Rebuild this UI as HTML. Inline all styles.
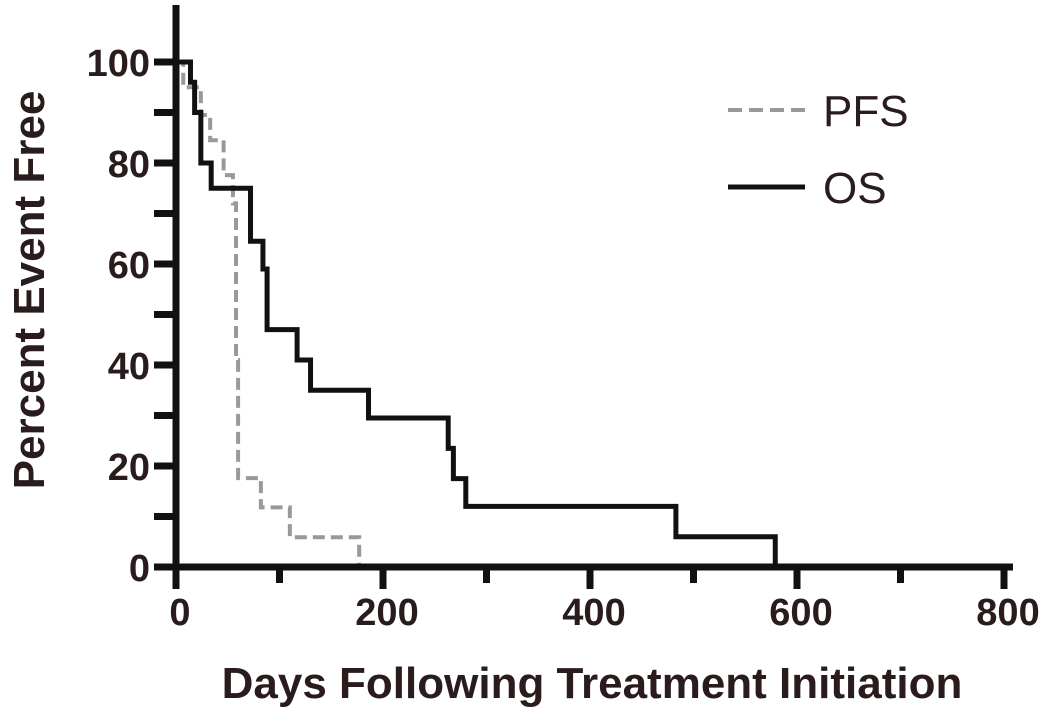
<!DOCTYPE html>
<html><head><meta charset="utf-8"><style>
body{margin:0;background:#fff;}
svg text{font-family:"Liberation Sans",Arial,sans-serif;font-weight:bold;fill:#2a1c1c;}
</style></head><body>
<svg id="chart" width="1050" height="717" viewBox="0 0 1050 717" xmlns="http://www.w3.org/2000/svg">
<g id="marks"></g>
<g id="axes"></g>
<text x="0" y="0" transform="translate(44,290) rotate(-90)" text-anchor="middle" font-size="44">Percent Event Free</text>
<text x="592" y="698" text-anchor="middle" font-size="44">Days Following Treatment Initiation</text>
<g>
<line x1="728" y1="110" x2="805" y2="110" stroke="#999" stroke-width="4" stroke-dasharray="14,7"/>
<text x="823" y="126" font-size="44" style="font-weight:normal">PFS</text>
<line x1="728" y1="187" x2="805" y2="187" stroke="#111" stroke-width="5"/>
<text x="823" y="203" font-size="44" style="font-weight:normal">OS</text>
</g>
</svg>
<script>
const xTicks=[0,200,400,600,800];
const yTicks=[0,20,40,60,80,100];
const osDays=[0,14,18,24,34,72,84,88,117,130,186,263,268,280,483,579];
const osVals=[100,96,90,80,75,64.5,59,47,41,35,29.5,23.5,17.5,12,6,0];
const pfsDays=[0,7,24,33,46,55,58,60,82,110,177];
const pfsVals=[100,95,89.5,84.5,77.6,72,41,17.6,11.8,5.9,0];
const X0=176,XS=1.035,Y0=567,YS=5.05;
const sx=d=>X0+d*XS, sy=v=>Y0-v*YS;
const NS='http://www.w3.org/2000/svg';
const marks=document.getElementById('marks'), axes=document.getElementById('axes');
function stepPath(days,vals){let d='M'+sx(days[0])+','+sy(vals[0]);for(let i=1;i<days.length;i++){d+=' H'+sx(days[i])+' V'+sy(vals[i]);}return d;}
const pfs=document.createElementNS(NS,'path');


pfs.setAttribute('d',stepPath(pfsDays,pfsVals));
pfs.setAttribute('fill','none');pfs.setAttribute('stroke','#999');pfs.setAttribute('stroke-width','4');pfs.setAttribute('stroke-dasharray','12,6');
marks.appendChild(pfs);
const os=document.createElementNS(NS,'path');


os.setAttribute('d',stepPath(osDays,osVals));
os.setAttribute('fill','none');os.setAttribute('stroke','#111');os.setAttribute('stroke-width','5');
marks.appendChild(os);
function line(x1,y1,x2,y2,w,name){const l=document.createElementNS(NS,'line');


l.setAttribute('x1',x1);l.setAttribute('y1',y1);l.setAttribute('x2',x2);l.setAttribute('y2',y2);l.setAttribute('stroke','#111');l.setAttribute('stroke-width',w);axes.appendChild(l);}
function text(x,y,s,anchor,name){const t=document.createElementNS(NS,'text');


t.setAttribute('x',x);t.setAttribute('y',y);t.setAttribute('text-anchor',anchor);t.setAttribute('font-size','38');t.textContent=s;axes.appendChild(t);}
line(X0,5,X0,Y0+4,7,'y-axis-line');
line(X0-3,Y0,1013,Y0,7,'x-axis-line');
for(let v=0;v<=100;v+=10){line(X0-22,sy(v),X0,sy(v),7,'y-tick');}
for(let d=0;d<=800;d+=100){line(sx(d),Y0,sx(d),Y0+(d%200===0?22:16),7,'x-tick');}
yTicks.forEach(v=>text(150,sy(v)+14,String(v),'end','y-tick-label'));
xTicks.forEach(d=>text(sx(d)+4,625,String(d),'middle','x-tick-label'));
</script>
</body></html>
